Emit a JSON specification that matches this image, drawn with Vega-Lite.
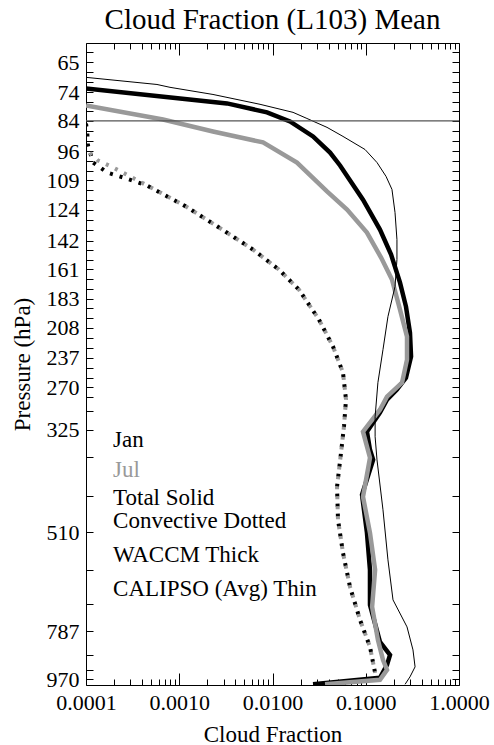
{
  "$schema": "https://vega.github.io/schema/vega-lite/v6.json",
  "width": 373,
  "height": 642,
  "autosize": "none",
  "padding": {"left": 86, "top": 43, "right": 35, "bottom": 60},
  "background": "white",
  "config": {
    "view": {"stroke": "#000", "strokeWidth": 1},
    "font": "Liberation Serif",
    "axis": {
      "labelFont": "Liberation Serif", "labelFontSize": 22, "labelColor": "#000",
      "titleFont": "Liberation Serif", "titleFontSize": 23, "titleFontWeight": "normal", "titleColor": "#000",
      "domain": false, "grid": false, "tickColor": "#000", "tickWidth": 1,
      "labelOverlap": false, "labelFlush": false, "labelBound": false
    }
  },
  "title": {"text": "Cloud Fraction (L103) Mean", "font": "Liberation Serif", "fontSize": 29, "fontWeight": "normal", "color": "#000", "offset": 11, "dy": 28, "baseline": "alphabetic", "anchor": "middle"},
  "datasets": {
    "lines": [
      {"s": "cjan", "v": 0.0001, "p": 85},
      {"s": "cjan", "v": 0.000103, "p": 88},
      {"s": "cjan", "v": 0.000105, "p": 93.5},
      {"s": "cjan", "v": 0.000119, "p": 100.8},
      {"s": "cjan", "v": 0.000168, "p": 105.3},
      {"s": "cjan", "v": 0.000249, "p": 107.6},
      {"s": "cjan", "v": 0.000451, "p": 111.5},
      {"s": "cjan", "v": 0.00118, "p": 122.2},
      {"s": "cjan", "v": 0.00267, "p": 134.0},
      {"s": "cjan", "v": 0.00618, "p": 147.6},
      {"s": "cjan", "v": 0.0117, "p": 161.1},
      {"s": "cjan", "v": 0.0192, "p": 175.9},
      {"s": "cjan", "v": 0.0315, "p": 200.6},
      {"s": "cjan", "v": 0.0446, "p": 225.9},
      {"s": "cjan", "v": 0.057, "p": 253.1},
      {"s": "cjan", "v": 0.0614, "p": 284.9},
      {"s": "cjan", "v": 0.0585, "p": 319.4},
      {"s": "cjan", "v": 0.0543, "p": 359.7},
      {"s": "cjan", "v": 0.0492, "p": 417.4},
      {"s": "cjan", "v": 0.0504, "p": 482.4},
      {"s": "cjan", "v": 0.057, "p": 557.5},
      {"s": "cjan", "v": 0.0678, "p": 647.2},
      {"s": "cjan", "v": 0.0868, "p": 748.0},
      {"s": "cjan", "v": 0.111, "p": 841.9},
      {"s": "cjan", "v": 0.12, "p": 903.1},
      {"s": "cjan", "v": 0.126, "p": 943.4},

      {"s": "cjul", "v": 0.0001, "p": 95.2},
      {"s": "cjul", "v": 0.0001345, "p": 99.9},
      {"s": "cjul", "v": 0.0001948, "p": 103.0},
      {"s": "cjul", "v": 0.000296, "p": 107.1},
      {"s": "cjul", "v": 0.000523, "p": 113.0},
      {"s": "cjul", "v": 0.00118, "p": 122.2},
      {"s": "cjul", "v": 0.00267, "p": 134.0},
      {"s": "cjul", "v": 0.00618, "p": 147.6},
      {"s": "cjul", "v": 0.0117, "p": 161.1},
      {"s": "cjul", "v": 0.0192, "p": 175.9},
      {"s": "cjul", "v": 0.0315, "p": 200.6},
      {"s": "cjul", "v": 0.0446, "p": 225.9},
      {"s": "cjul", "v": 0.057, "p": 253.1},
      {"s": "cjul", "v": 0.0614, "p": 284.9},
      {"s": "cjul", "v": 0.0585, "p": 319.4},
      {"s": "cjul", "v": 0.0543, "p": 359.7},
      {"s": "cjul", "v": 0.0492, "p": 417.4},
      {"s": "cjul", "v": 0.0504, "p": 482.4},
      {"s": "cjul", "v": 0.057, "p": 557.5},
      {"s": "cjul", "v": 0.0678, "p": 647.2},
      {"s": "cjul", "v": 0.0868, "p": 748.0},
      {"s": "cjul", "v": 0.111, "p": 841.9},
      {"s": "cjul", "v": 0.12, "p": 903.1},
      {"s": "cjul", "v": 0.126, "p": 943.4},

      {"s": "jan", "v": 0.0001, "p": 72.9},
      {"s": "jan", "v": 0.00325, "p": 77.8},
      {"s": "jan", "v": 0.00873, "p": 80.9},
      {"s": "jan", "v": 0.0154, "p": 84.2},
      {"s": "jan", "v": 0.0272, "p": 89.9},
      {"s": "jan", "v": 0.0414, "p": 96.5},
      {"s": "jan", "v": 0.053, "p": 102.1},
      {"s": "jan", "v": 0.0934, "p": 118.6},
      {"s": "jan", "v": 0.142, "p": 135.2},
      {"s": "jan", "v": 0.187, "p": 150.9},
      {"s": "jan", "v": 0.233, "p": 170.6},
      {"s": "jan", "v": 0.27, "p": 189.5},
      {"s": "jan", "v": 0.298, "p": 212.4},
      {"s": "jan", "v": 0.306, "p": 236.0},
      {"s": "jan", "v": 0.27, "p": 258.8},
      {"s": "jan", "v": 0.216, "p": 272.7},
      {"s": "jan", "v": 0.169, "p": 284.9},
      {"s": "jan", "v": 0.142, "p": 301.7},
      {"s": "jan", "v": 0.103, "p": 327.9},
      {"s": "jan", "v": 0.111, "p": 354.9},
      {"s": "jan", "v": 0.12, "p": 370.9},
      {"s": "jan", "v": 0.0912, "p": 432.3},
      {"s": "jan", "v": 0.103, "p": 510.7},
      {"s": "jan", "v": 0.111, "p": 600.6},
      {"s": "jan", "v": 0.111, "p": 700.4},
      {"s": "jan", "v": 0.142, "p": 823.7},
      {"s": "jan", "v": 0.182, "p": 872.0},
      {"s": "jan", "v": 0.169, "p": 911.0},
      {"s": "jan", "v": 0.142, "p": 964.3},
      {"s": "jan", "v": 0.0272, "p": 992},

      {"s": "jul", "v": 0.0001, "p": 78.5},
      {"s": "jul", "v": 0.00067, "p": 83.5},
      {"s": "jul", "v": 0.0023, "p": 88.0},
      {"s": "jul", "v": 0.00791, "p": 92.3},
      {"s": "jul", "v": 0.0183, "p": 100.8},
      {"s": "jul", "v": 0.0384, "p": 114.4},
      {"s": "jul", "v": 0.063, "p": 123.9},
      {"s": "jul", "v": 0.103, "p": 137.0},
      {"s": "jul", "v": 0.146, "p": 152.9},
      {"s": "jul", "v": 0.191, "p": 168.3},
      {"s": "jul", "v": 0.233, "p": 192.1},
      {"s": "jul", "v": 0.277, "p": 216.2},
      {"s": "jul", "v": 0.277, "p": 239.1},
      {"s": "jul", "v": 0.245, "p": 264.5},
      {"s": "jul", "v": 0.169, "p": 281.2},
      {"s": "jul", "v": 0.142, "p": 297.8},
      {"s": "jul", "v": 0.0934, "p": 327.9},
      {"s": "jul", "v": 0.111, "p": 367.6},
      {"s": "jul", "v": 0.0934, "p": 436.1},
      {"s": "jul", "v": 0.111, "p": 510.7},
      {"s": "jul", "v": 0.126, "p": 600.6},
      {"s": "jul", "v": 0.117, "p": 706.5},
      {"s": "jul", "v": 0.135, "p": 816.5},
      {"s": "jul", "v": 0.153, "p": 891.2},
      {"s": "jul", "v": 0.169, "p": 931.1},
      {"s": "jul", "v": 0.142, "p": 972.8},
      {"s": "jul", "v": 0.0366, "p": 992},

      {"s": "cal", "v": 0.0001, "p": 69.4},
      {"s": "cal", "v": 0.000577, "p": 71.6},
      {"s": "cal", "v": 0.000796, "p": 72.5},
      {"s": "cal", "v": 0.0023, "p": 74.8},
      {"s": "cal", "v": 0.00735, "p": 78.1},
      {"s": "cal", "v": 0.0166, "p": 80.9},
      {"s": "cal", "v": 0.0234, "p": 83.1},
      {"s": "cal", "v": 0.0384, "p": 86.4},
      {"s": "cal", "v": 0.057, "p": 89.9},
      {"s": "cal", "v": 0.0982, "p": 95.2},
      {"s": "cal", "v": 0.132, "p": 100.8},
      {"s": "cal", "v": 0.165, "p": 107.1},
      {"s": "cal", "v": 0.191, "p": 113.4},
      {"s": "cal", "v": 0.206, "p": 125.5},
      {"s": "cal", "v": 0.216, "p": 141.3},
      {"s": "cal", "v": 0.216, "p": 154.2},
      {"s": "cal", "v": 0.206, "p": 173.6},
      {"s": "cal", "v": 0.173, "p": 198.0},
      {"s": "cal", "v": 0.153, "p": 228.9},
      {"s": "cal", "v": 0.135, "p": 264.5},
      {"s": "cal", "v": 0.126, "p": 307.0},
      {"s": "cal", "v": 0.126, "p": 335.2},
      {"s": "cal", "v": 0.132, "p": 370.9},
      {"s": "cal", "v": 0.153, "p": 461.7},
      {"s": "cal", "v": 0.173, "p": 574.9},
      {"s": "cal", "v": 0.196, "p": 685.2},
      {"s": "cal", "v": 0.277, "p": 771.3},
      {"s": "cal", "v": 0.321, "p": 853.1},
      {"s": "cal", "v": 0.338, "p": 919.0},
      {"s": "cal", "v": 0.298, "p": 960.1},
      {"s": "cal", "v": 0.264, "p": 992}
    ],
    "legend": [
      {"t": "Jan", "v": 0.000195, "p": 350},
      {"t": "Jul", "v": 0.000195, "p": 399.5},
      {"t": "Total Solid", "v": 0.000195, "p": 451.8},
      {"t": "Convective Dotted", "v": 0.000195, "p": 499.8},
      {"t": "WACCM Thick", "v": 0.000195, "p": 580},
      {"t": "CALIPSO (Avg) Thin", "v": 0.000195, "p": 673}
    ]
  },
  "resolve": {"axis": {"x": "independent", "y": "independent"}},
  "layer": [
    {
      "data": {"name": "lines"},
      "transform": [{"filter": "datum.s == 'cjan'"}],
      "mark": {"type": "line", "stroke": "#000", "strokeWidth": 4, "strokeDash": [3, 7], "clip": true},
      "encoding": {
        "x": {"field": "v", "type": "quantitative", "scale": {"type": "log", "domain": [0.0001, 1], "nice": false}, "axis": null},
        "y": {"field": "p", "type": "quantitative", "scale": {"type": "log", "domain": [59.7, 995], "nice": false, "reverse": true}, "axis": null},
        "order": {"field": "p", "type": "quantitative"}
      }
    },
    {
      "data": {"name": "lines"},
      "transform": [{"filter": "datum.s == 'cjul'"}],
      "mark": {"type": "line", "stroke": "#999999", "strokeWidth": 4, "strokeDash": [3, 7], "strokeDashOffset": 5, "clip": true},
      "encoding": {
        "x": {"field": "v", "type": "quantitative", "scale": {"type": "log", "domain": [0.0001, 1], "nice": false}, "axis": null},
        "y": {"field": "p", "type": "quantitative", "scale": {"type": "log", "domain": [59.7, 995], "nice": false, "reverse": true}, "axis": null},
        "order": {"field": "p", "type": "quantitative"}
      }
    },
    {
      "data": {"name": "lines"},
      "transform": [{"filter": "datum.s == 'jan'"}],
      "mark": {"type": "line", "stroke": "#000", "strokeWidth": 4.5, "clip": true},
      "encoding": {
        "x": {"field": "v", "type": "quantitative", "scale": {"type": "log", "domain": [0.0001, 1], "nice": false}, "axis": null},
        "y": {"field": "p", "type": "quantitative", "scale": {"type": "log", "domain": [59.7, 995], "nice": false, "reverse": true}, "axis": null},
        "order": {"field": "p", "type": "quantitative"}
      }
    },
    {
      "data": {"name": "lines"},
      "transform": [{"filter": "datum.s == 'jul'"}],
      "mark": {"type": "line", "stroke": "#999999", "strokeWidth": 4.5, "clip": true},
      "encoding": {
        "x": {"field": "v", "type": "quantitative", "scale": {"type": "log", "domain": [0.0001, 1], "nice": false},
          "axis": {"orient": "top", "labels": false, "title": null,
            "values": [0.0001,0.0002,0.0003,0.0004,0.0005,0.0006,0.0007,0.0008,0.0009,0.001,0.002,0.003,0.004,0.005,0.006,0.007,0.008,0.009,0.01,0.02,0.03,0.04,0.05,0.06,0.07,0.08,0.09,0.1,0.2,0.3,0.4,0.5,0.6,0.7,0.8,0.9,1],
            "tickSize": {"condition": {"test": "abs(log(datum.value)/LN10 - round(log(datum.value)/LN10)) < 0.001", "value": -12}, "value": -6}}},
        "y": {"field": "p", "type": "quantitative", "scale": {"type": "log", "domain": [59.7, 995], "nice": false, "reverse": true}, "axis": null},
        "order": {"field": "p", "type": "quantitative"}
      }
    },
    {
      "data": {"name": "lines"},
      "transform": [{"filter": "datum.s == 'cal'"}],
      "mark": {"type": "line", "stroke": "#000", "strokeWidth": 1, "clip": true},
      "encoding": {
        "x": {"field": "v", "type": "quantitative", "scale": {"type": "log", "domain": [0.0001, 1], "nice": false},
          "axis": {"orient": "bottom", "title": "Cloud Fraction", "titlePadding": 4, "labelPadding": 19,
            "values": [0.0001,0.0002,0.0003,0.0004,0.0005,0.0006,0.0007,0.0008,0.0009,0.001,0.002,0.003,0.004,0.005,0.006,0.007,0.008,0.009,0.01,0.02,0.03,0.04,0.05,0.06,0.07,0.08,0.09,0.1,0.2,0.3,0.4,0.5,0.6,0.7,0.8,0.9,1],
            "labelExpr": "abs(log(datum.value)/LN10 - round(log(datum.value)/LN10)) < 0.001 ? format(datum.value, '.4f') : ''",
            "tickSize": {"condition": {"test": "abs(log(datum.value)/LN10 - round(log(datum.value)/LN10)) < 0.001", "value": -12}, "value": -6}}},
        "y": {"field": "p", "type": "quantitative", "scale": {"type": "log", "domain": [59.7, 995], "nice": false, "reverse": true},
          "axis": {"orient": "left", "title": "Pressure (hPa)", "titleX": -64, "titleY": 321, "titleAngle": -90, "titleAlign": "center", "titleBaseline": "middle", "labelPadding": 14, "tickSize": -7,
            "values": [62.2,65,67.9,70.9,74,77.2,80.5,84,87.8,91.8,96,100.1,104.4,109,113.8,118.8,124,129.7,135.7,142,148.1,154.4,161,168,175.4,183,191,199.3,208,217.3,226.9,237,247.6,258.6,270,282,300,325,367,434,510,600,697,787,872,931,970],
            "labelExpr": "indexof([65,74,84,96,109,124,142,161,183,208,237,270,325,510,787,970], datum.value) >= 0 ? format(datum.value, 'd') : ''"}},
        "order": {"field": "p", "type": "quantitative"}
      }
    },
    {
      "data": {"values": [{"p": 84}]},
      "mark": {"type": "rule", "stroke": "#555555", "strokeWidth": 1.2},
      "encoding": {
        "y": {"field": "p", "type": "quantitative", "scale": {"type": "log", "domain": [59.7, 995], "nice": false, "reverse": true},
          "axis": {"orient": "right", "labels": false, "title": null, "tickSize": -7,
            "values": [62.2,65,67.9,70.9,74,77.2,80.5,84,87.8,91.8,96,100.1,104.4,109,113.8,118.8,124,129.7,135.7,142,148.1,154.4,161,168,175.4,183,191,199.3,208,217.3,226.9,237,247.6,258.6,270,282,300,325,367,434,510,600,697,787,872,931,970]}}
      }
    },
    {
      "data": {"name": "legend"},
      "mark": {"type": "text", "align": "left", "baseline": "alphabetic", "font": "Liberation Serif", "fontSize": 23},
      "encoding": {
        "x": {"field": "v", "type": "quantitative", "scale": {"type": "log", "domain": [0.0001, 1], "nice": false}, "axis": null},
        "y": {"field": "p", "type": "quantitative", "scale": {"type": "log", "domain": [59.7, 995], "nice": false, "reverse": true}, "axis": null},
        "text": {"field": "t"},
        "color": {"condition": {"test": "datum.t == 'Jul'", "value": "#999999"}, "value": "#000000"}
      }
    }
  ]
}
